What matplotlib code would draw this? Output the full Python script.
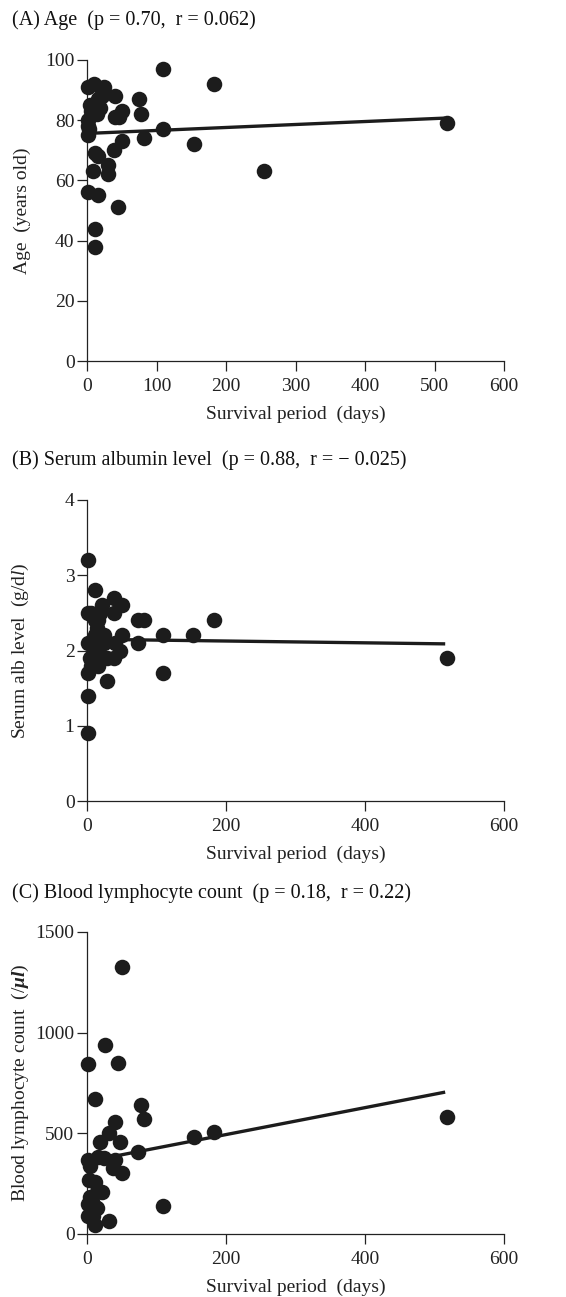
import numpy as np
import matplotlib
matplotlib.use("Agg")
import matplotlib.pyplot as plt

plt.rcParams['font.family'] = ['Liberation Serif', 'DejaVu Serif']
plt.rcParams['mathtext.fontset'] = 'custom'
plt.rcParams['mathtext.rm'] = 'Liberation Serif'
plt.rcParams['mathtext.it'] = 'Liberation Serif:italic'
plt.rcParams['mathtext.bf'] = 'Liberation Serif:italic:bold'

# (A) Age vs survival period
age_days = [109, 183, 518, 255, 154, 109, 82, 75, 78, 40, 50, 46, 40, 50, 39, 30, 30,
            16, 12, 9, 1, 16, 44, 11, 11, 25, 10, 1, 21, 19, 4, 14, 2, 3, 2, 10, 16, 22, 6, 1]
age_vals = [97, 92, 79, 63, 72, 77, 74, 87, 82, 88, 83, 81, 81, 73, 70, 65, 62,
            68, 69, 63, 56, 55, 51, 44, 38, 91, 92, 91, 88, 84, 85, 82, 80, 77, 75, 85, 87, 90, 83, 78]

# (B) Serum albumin vs survival period
alb_days = [2, 1, 2, 6, 4, 1, 1, 12, 21, 19, 11, 16, 11, 25, 16, 16, 29, 29, 39, 39, 39,
            50, 50, 47, 40, 74, 82, 74, 109, 109, 153, 183, 518, 2, 8, 12, 20, 6, 14, 25, 9]
alb_vals = [0.9, 1.4, 1.7, 1.8, 1.9, 2.1, 2.5, 2.8, 2.6, 2.5, 2.4, 2.4, 2.2, 2.2, 2.0, 1.8, 1.6,
            1.9, 1.9, 2.7, 2.5, 2.6, 2.2, 2.0, 2.1, 2.4, 2.4, 2.1, 2.2, 1.7, 2.2, 2.4, 1.9, 3.2,
            2.1, 2.0, 2.1, 2.5, 2.3, 2.1, 1.9]

# (C) Blood lymphocyte count vs survival period
lym_days = [50, 26, 1, 44, 12, 78, 82, 40, 32, 18, 47, 154, 183, 518, 74, 109, 16, 24, 2, 4,
            40, 38, 50, 3, 11, 21, 14, 1, 14, 1, 12, 31, 9, 4, 9]
lym_vals = [1325, 939, 843, 848, 669, 641, 571, 558, 500, 459, 459, 480, 505, 580, 409, 139,
            384, 376, 368, 338, 368, 326, 305, 268, 260, 210, 210, 149, 128, 89, 45, 66, 89, 185, 150]

# regression lines (intercept, slope), drawn up to fit_end days
fit_a = (75.6, 0.0099)
fit_b = (2.15, -0.00012)
fit_c = (360.0, 0.669)
fit_end = 513

titles = ['(A) Age  (p = 0.70,  r = 0.062)',
          '(B) Serum albumin level  (p = 0.88,  r = \u2212 0.025)',
          '(C) Blood lymphocyte count  (p = 0.18,  r = 0.22)']
ylabels = ['Age  (years old)',
           r'Serum alb level  (g/d$\mathit{l}$)',
           r'Blood lymphocyte count  (/$\mathbf{\mu l}$)']
xticks_list = [[0, 100, 200, 300, 400, 500, 600], [0, 200, 400, 600], [0, 200, 400, 600]]
yticks_list = [[0, 20, 40, 60, 80, 100], [0, 1, 2, 3, 4], [0, 500, 1000, 1500]]
ylims = [100, 4, 1500]

W, H = 566, 1297
fig = plt.figure(figsize=(W / 100, H / 100), dpi=100)

# pixel boxes of the three axes: (top, bottom)
boxes = [(60, 361), (500, 801), (932, 1234)]
title_y = [20, 460, 893]
left, right = 87, 504

data = [(age_days, age_vals, fit_a), (alb_days, alb_vals, fit_b), (lym_days, lym_vals, fit_c)]

for i in range(3):
    top, bottom = boxes[i]
    ax = fig.add_axes([left / W, 1 - bottom / H, (right - left) / W, (bottom - top) / H])
    xs, ys, fit = data[i]
    ax.scatter(xs, ys, s=125, color='#1c1c1c', linewidths=0, zorder=3, clip_on=False)
    lx = np.array([0, fit_end])
    ax.plot(lx, fit[0] + fit[1] * lx, color='#1c1c1c', lw=2.4, zorder=2, clip_on=False)
    ax.set_xlim(0, 600)
    ax.set_ylim(0, ylims[i])
    ax.set_xticks(xticks_list[i])
    ax.set_yticks(yticks_list[i])
    for s in ['top', 'right']:
        ax.spines[s].set_visible(False)
    for s in ['left', 'bottom']:
        ax.spines[s].set_linewidth(0.9)
        ax.spines[s].set_color('#222222')
    ax.tick_params(direction='out', length=7, width=0.9, color='#222222',
                   labelsize=14, labelcolor='#222222')
    ax.tick_params(axis='x', pad=5)
    ax.tick_params(axis='y', pad=2)
    ax.set_xlabel('Survival period  (days)', fontsize=14, color='#222222', labelpad=8)
    ax.set_ylabel(ylabels[i], fontsize=14, color='#222222')
    ax.yaxis.set_label_coords((31 - left) / (right - left), 0.5)
    fig.text(12 / W, 1 - title_y[i] / H, titles[i], fontsize=14.5, color='#111111',
             ha='left', va='center')

fig.savefig('out.png', dpi=100)
